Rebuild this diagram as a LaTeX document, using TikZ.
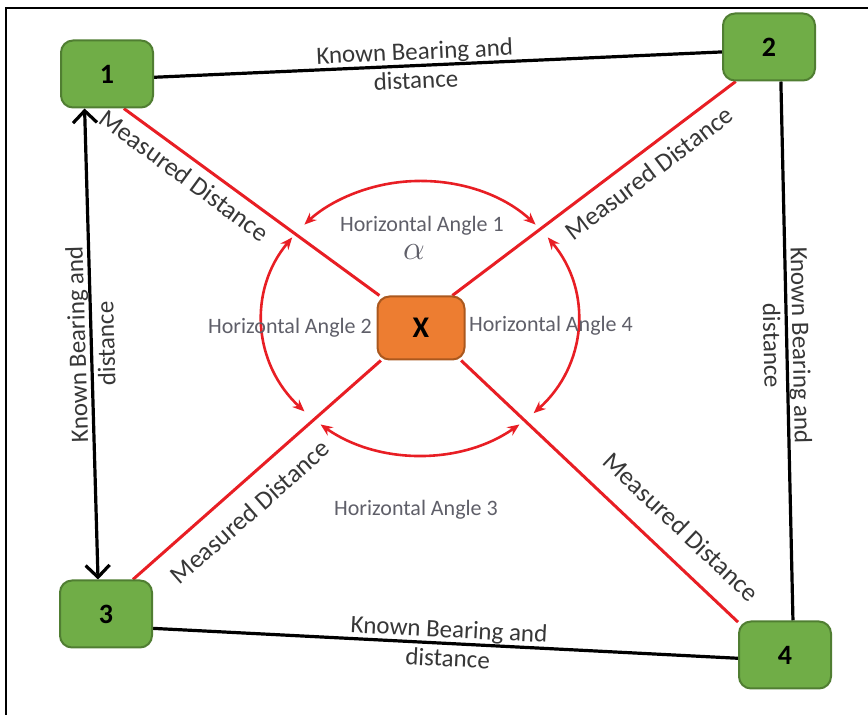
\documentclass[tikz,border=0pt]{standalone}
\usepackage{fontspec}
\setmainfont{Carlito}
\usepackage{tikz}
\usetikzlibrary{arrows.meta,calc,positioning,backgrounds}
\definecolor{stationfill}{RGB}{112,173,71}
\definecolor{stationedge}{RGB}{80,126,50}
\definecolor{unknownfill}{RGB}{237,125,49}
\definecolor{unknownedge}{RGB}{170,88,30}
\definecolor{measred}{RGB}{232,30,36}
\definecolor{labelgray}{RGB}{55,55,55}
\definecolor{anglegray}{RGB}{95,95,105}

\begin{document}
\begin{tikzpicture}[x=0.5pt,y=0.5pt,
  station/.style={draw=stationedge,line width=1pt,fill=stationfill,rounded corners=6pt,
    minimum width=46pt,minimum height=33.5pt,font=\fontsize{14}{16}\selectfont\bfseries},
  unknown/.style={station,draw=unknownedge,fill=unknownfill,
    minimum width=43.5pt,minimum height=31.5pt,font=\fontsize{15}{17}\selectfont\bfseries},
  known/.style={draw=black,line width=1.6pt},
  knownlbl/.style={sloped,align=center,text=labelgray,inner sep=0pt,
    font=\fontsize{12.5}{14.5}\selectfont},
  measured/.style={draw=measred,line width=1.5pt},
  measlbl/.style={sloped,text=labelgray,inner sep=0pt,font=\fontsize{13}{15}\selectfont},
  anglearc/.style={draw=measred,line width=1.3pt,
    {Stealth[length=6pt,width=5pt]}-{Stealth[length=6pt,width=5pt]}},
  anglelbl/.style={text=anglegray,inner sep=0pt,font=\fontsize{11}{13}\selectfont}]
  \useasboundingbox (0,0) rectangle (868,-715);
  \draw[line width=1pt] (6,-715) -- (6,-8) -- (868,-8);

  % stations and unknown point
  \node[station] (n1) at (107,-74) {1};
  \node[station] (n2) at (769,-47) {2};
  \node[station] (n3) at (106,-614) {3};
  \node[station] (n4) at (785,-655) {4};
  \node[unknown] (X) at (421,-328) {X};

  \begin{scope}[on background layer]
    % known sides
    \draw[known] (n1.-4) -- node[knownlbl,pos=0.46] {Known Bearing and\\distance} (n2.186);
    \draw[known,{Straight Barb[length=6pt,width=12pt]}-{Straight Barb[length=6pt,width=12pt]}]
      (n3.103) -- node[knownlbl,allow upside down,pos=0.5] {Known Bearing and\\distance} (n1.237);
    \draw[known] (n2.-71) -- node[knownlbl,pos=0.49] {Known Bearing and\\distance} (n4.77);
    \draw[known] (n3.-17) -- node[knownlbl,pos=0.505] {Known Bearing and\\distance} (n4.184);
    % measured distances
    \draw[measured] (n1.-64) -- node[measlbl,pos=0.28,below=3.8pt] {Measured Distance} (X.142);
    \draw[measured] (X.46) -- node[measlbl,pos=0.65,below=5pt] {Measured Distance} (n2.226);
    \draw[measured] (n3.52) -- node[measlbl,pos=0.4,below=8pt] {Measured Distance} (X.219);
    \draw[measured] (X.321) -- node[measlbl,pos=0.72,above=9.8pt] {Measured Distance} (n4.145);
  \end{scope}

  % horizontal angles
  \coordinate (o) at (420,-318);
  \draw[anglearc] ($(o)+(43:158 and 137)$) arc[start angle=43,end angle=137,x radius=158,y radius=137];
  \draw[anglearc] ($(o)+(144:158 and 137)$) arc[start angle=144,end angle=223,x radius=158,y radius=137];
  \draw[anglearc] ($(o)+(231:158 and 137)$) arc[start angle=231,end angle=309,x radius=158,y radius=137];
  \draw[anglearc] ($(o)+(316:158 and 137)$) arc[start angle=316,end angle=396,x radius=158,y radius=137];
  \node[anglelbl] (ha1) at (422,-226) {Horizontal Angle 1};
  \node[anglelbl,font=\fontsize{16}{16}\selectfont] (alpha) at (414,-252) {$\alpha$};
  \node[anglelbl] (ha2) at (290,-328) {Horizontal Angle 2};
  \node[anglelbl] (ha4) at (551,-326) {Horizontal Angle 4};
  \node[anglelbl] (ha3) at (416,-510) {Horizontal Angle 3};
\end{tikzpicture}
\end{document}
